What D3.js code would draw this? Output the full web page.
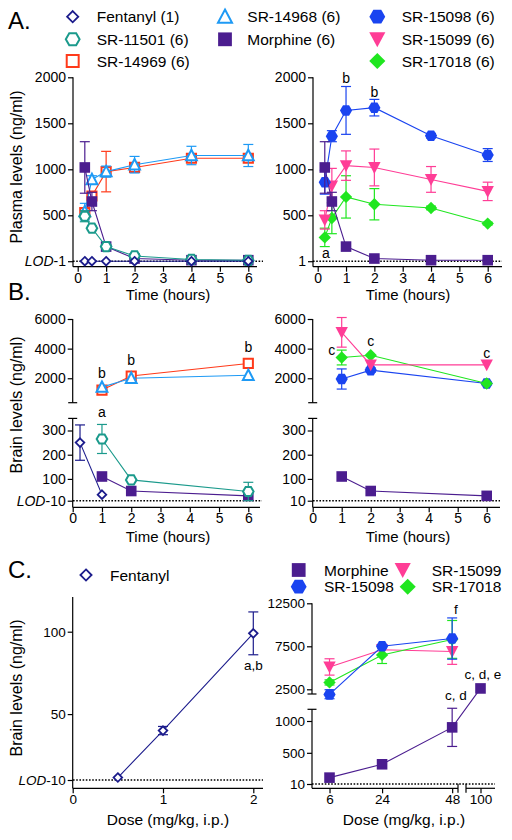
<!DOCTYPE html>
<html><head><meta charset="utf-8">
<script src="https://cdn.jsdelivr.net/npm/d3@7"></script>
<style>
body{margin:0;background:#fff}
text{font-family:"Liberation Sans",Arial,Helvetica,sans-serif;fill:#000}
</style>
</head><body>
<svg id="chart" width="512" height="840"></svg>
<script>
// ---------------- DATA ----------------
const timeA = [0.25, 0.5, 1, 2, 4, 6];
const plasmaFentanyl = [1, 1, 1, 1, 1, 1];
const plasmaSR11501 = [490, 360, 160, 58, 20, 10];
const plasmaSR11501Err = [60, 25, 20, 8, 4, 4];
const plasmaSR14969 = [530, 710, 975, 1020, 1120, 1120];
const plasmaSR14969Err = [40, 40, 220, 40, 30, 40];
const plasmaSR14968 = [540, 890, 975, 1050, 1150, 1150];
const plasmaSR14968Err = [90, 40, 60, 90, 100, 120];
const plasmaMorphine = [1020, 650, 160, 30, 12, 12];
const plasmaMorphineErr = [280, 100, 20, 5, 3, 3];
const plasmaSR15098 = [860, 1360, 1640, 1670, 1365, 1155];
const plasmaSR15098Err = [130, 60, 260, 90, 25, 70];
const plasmaSR15099 = [450, 820, 1040, 1020, 890, 760];
const plasmaSR15099Err = [100, 190, 160, 200, 140, 100];
const plasmaSR17018 = [260, 470, 700, 620, 580, 410];
const plasmaSR17018Err = [100, 170, 230, 170, 20, 15];

const timeBFentanyl = [0.25, 1];
const brainFentanyl = [250, 35];
const brainFentanylErr = [73, 0];
const timeB = [1, 2, 6];
const brainSR11501 = [265, 96, 48];
const brainSR11501Err = [60, 5, 38];
const brainSR14969 = [1200, 2150, 3000];
const brainSR14968 = [1400, 2000, 2200];
const brainMorphine = [110, 50, 30];
const brainSR15098 = [1950, 2550, 1650];
const brainSR15098Err = [680, 150, 100];
const brainSR15099 = [5100, 2900, 2900];
const brainSR15099Err = [1000, 0, 0];
const brainSR17018 = [3400, 3550, 1650];
const brainSR17018Err = [500, 0, 0];

const doseFentanyl = [0.5, 1, 2];
const doseBrainFentanyl = [11.5, 40, 99];
const doseBrainFentanylErr = [0, 2.5, 13];
const doseMorphine = [6, 24, 48, 100];
const doseBrainMorphine = [110, 320, 900, 2600];
const doseBrainMorphineErr = [0, 0, 300, 0];
const doseSR = [6, 24, 48];
const doseBrainSR15098 = [1900, 7500, 8400];
const doseBrainSR15098Err = [550, 200, 2400];
const doseBrainSR15099 = [5100, 7100, 6900];
const doseBrainSR15099Err = [950, 0, 1500];
const doseBrainSR17018 = [3300, 6500, 8300];
const doseBrainSR17018Err = [300, 1000, 2200];

const timeTicks = [0, 1, 2, 3, 4, 5, 6];
const plasmaTicks = [1, 500, 1000, 1500, 2000];
const brainUpperTicks = [2000, 4000, 6000];
const brainLowerTicks = [10, 100, 200, 300];
const fentDoseTicks = [0, 1, 2];
const fentBrainTicks = [10, 50, 100];
const srDoseTicks = [6, 24, 48];
const srDoseTicks2 = [100];
const srUpperTicks = [2500, 7500, 12500];
const srLowerTicks = [10, 500, 1000];

const legendA = [
  ["fentanyl", "Fentanyl (1)"], ["sr11501", "SR-11501 (6)"], ["sr14969", "SR-14969 (6)"],
  ["sr14968", "SR-14968 (6)"], ["morphine", "Morphine (6)"],
  ["sr15098", "SR-15098 (6)"], ["sr15099", "SR-15099 (6)"], ["sr17018", "SR-17018 (6)"]
];

// ---------------- STYLE ----------------
const styles = {
  fentanyl: {color: "#1c1c8c", shape: "diamond", r: 4.3, fill: false, sw: 1.8},
  sr11501: {color: "#1b9a8c", shape: "hexagon", r: 5.3, fill: false, sw: 2},
  sr14969: {color: "#ff3a1a", shape: "square", r: 4.6, fill: false, sw: 2},
  sr14968: {color: "#1e9af5", shape: "triUp", r: 5.4, fill: false, sw: 2},
  morphine: {color: "#4b1d8f", shape: "square", r: 5.3, fill: true, sw: 0},
  sr15098: {color: "#1a44f0", shape: "hexagon", r: 6.1, fill: true, sw: 0},
  sr15099: {color: "#ff3d96", shape: "triDown", r: 6.2, fill: true, sw: 0},
  sr17018: {color: "#20e620", shape: "diamond", r: 6.2, fill: true, sw: 0}
};

const svg = d3.select("#chart");

function markerPath(shape, r) {
  if (shape === "square") return `M${-r},${-r}H${r}V${r}H${-r}Z`;
  if (shape === "diamond") return `M0,${-r}L${r},0L0,${r}L${-r},0Z`;
  if (shape === "hexagon") {
    const p = d3.range(6).map(i => [r * Math.cos(i * Math.PI / 3), r * Math.sin(i * Math.PI / 3)]);
    return "M" + p.map(q => q.join(",")).join("L") + "Z";
  }
  const h = r * 1.75;
  if (shape === "triUp") return `M0,${-h / 2 - 1}L${r},${h / 2}L${-r},${h / 2}Z`;
  if (shape === "triDown") return `M0,${h / 2 + 1}L${r},${-h / 2}L${-r},${-h / 2}Z`;
}

function marker(g, key, x, y, scale = 1) {
  const st = styles[key];
  g.append("path").attr("d", markerPath(st.shape, st.r * scale))
    .attr("transform", `translate(${x},${y})`)
    .attr("fill", st.fill ? st.color : "#fff")
    .attr("stroke", st.color)
    .attr("stroke-width", st.fill ? 0 : st.sw)
    .attr("stroke-linejoin", "miter");
}

function series(g, key, xs, ys, errs, xf, yf) {
  const st = styles[key];
  const pts = xs.map((x, i) => [xf(x), yf(ys[i])]);
  if (errs) {
    xs.forEach((x, i) => {
      if (!errs[i]) return;
      const px = xf(x), yt = yf(ys[i] + errs[i]), yb = yf(ys[i] - errs[i]);
      g.append("line").attr("x1", px).attr("x2", px).attr("y1", yt).attr("y2", yb)
        .attr("stroke", st.color).attr("stroke-width", 1.2);
      [yt, yb].forEach(yy => g.append("line").attr("x1", px - 5).attr("x2", px + 5)
        .attr("y1", yy).attr("y2", yy).attr("stroke", st.color).attr("stroke-width", 1.2));
    });
  }
  g.append("path").attr("d", d3.line()(pts)).attr("fill", "none")
    .attr("stroke", st.color).attr("stroke-width", 1.1);
  pts.forEach(p => marker(g, key, p[0], p[1]));
}

function vline(x, y1, y2) {
  svg.append("line").attr("x1", x).attr("x2", x).attr("y1", y1).attr("y2", y2)
    .attr("stroke", "#000").attr("stroke-width", 1.2);
}
function hline(y, x1, x2) {
  svg.append("line").attr("x1", x1).attr("x2", x2).attr("y1", y).attr("y2", y)
    .attr("stroke", "#000").attr("stroke-width", 1.2);
}
function dotted(y, x1, x2) {
  svg.append("line").attr("x1", x1).attr("x2", x2).attr("y1", y).attr("y2", y)
    .attr("stroke", "#000").attr("stroke-width", 1.6).attr("stroke-dasharray", "1.6,1.6");
}

function yAxis(x0, scale, ticks, fs, lodVal, lodLabel) {
  const g = svg.append("g").attr("transform", `translate(${x0},0)`)
    .call(d3.axisLeft(scale).tickValues(ticks).tickSize(5).tickPadding(2).tickFormat(d3.format("d")));
  g.select(".domain").remove();
  g.selectAll(".tick line").attr("stroke", "#000").attr("stroke-width", 1.2);
  g.selectAll(".tick text").attr("font-size", fs).attr("font-family", null).attr("fill", "#000");
  if (lodLabel) {
    g.selectAll(".tick text").filter(d => d === lodVal).each(function () {
      const t = d3.select(this); t.text("");
      t.append("tspan").attr("font-style", "italic").text("LOD");
      t.append("tspan").text("-" + lodVal);
    });
  }
  return g;
}
function xAxis(y0, scale, ticks, fs, pad = 3) {
  const g = svg.append("g").attr("transform", `translate(0,${y0})`)
    .call(d3.axisBottom(scale).tickValues(ticks).tickSize(5).tickPadding(pad).tickFormat(d3.format("d")));
  g.select(".domain").remove();
  g.selectAll(".tick line").attr("stroke", "#000").attr("stroke-width", 1.2);
  g.selectAll(".tick text").attr("font-size", fs).attr("font-family", null).attr("fill", "#000");
  return g;
}
function text(x, y, s, fs, anchor = "middle") {
  return svg.append("text").attr("x", x).attr("y", y).attr("font-size", fs)
    .attr("text-anchor", anchor).text(s);
}
function yTitle(x, y, s, fs) {
  svg.append("text").attr("transform", `translate(${x},${y}) rotate(-90)`)
    .attr("text-anchor", "middle").attr("font-size", fs).text(s);
}

// ---------------- PANEL LETTERS & TOP LEGEND ----------------
text(8, 28.5, "A.", 24, "start");
text(8, 300, "B.", 24, "start");
text(8, 578, "C.", 24, "start");

const legCols = [[72.7, 96.7], [225, 247.3], [377.3, 401.7]];
const legRows = [16.7, 39.3, 61];
const legPlace = [[0, 0], [0, 1], [0, 2], [1, 0], [1, 1], [2, 0], [2, 1], [2, 2]];
const legG = svg.append("g");
legendA.forEach((d, i) => {
  const [c, r] = legPlace[i];
  marker(legG, d[0], legCols[c][0], legRows[r], 1.3);
  text(legCols[c][1], legRows[r] + 5.5, d[1], 15.5, "start");
});

// ---------------- PANEL A ----------------
const yA = d3.scaleLinear().domain([0, 2000]).range([261.3, 77.3]);
const xAL = d3.scaleLinear().domain([0, 6]).range([77.7, 248.3]);
const xAR = d3.scaleLinear().domain([0, 6]).range([317.7, 487.7]);
const axA = 266.7;

dotted(yA(1), 73, 263);
dotted(yA(1), 313, 502);
vline(73, yA(2000), axA); hline(axA, 73, 257);
vline(313, yA(2000), axA); hline(axA, 313, 502);
yAxis(73, yA, plasmaTicks, 14, 1, true);
yAxis(313, yA, plasmaTicks, 14, 1, false);
xAxis(axA, xAL, timeTicks, 14, 1.5);
xAxis(axA, xAR, timeTicks, 14, 1.5);
yTitle(22, 167, "Plasma levels (ng/ml)", 16);
text(168, 299.5, "Time (hours)", 15);
text(408, 299.5, "Time (hours)", 15);

const gAL = svg.append("g");
series(gAL, "sr14969", timeA, plasmaSR14969, plasmaSR14969Err, xAL, yA);
series(gAL, "sr14968", timeA, plasmaSR14968, plasmaSR14968Err, xAL, yA);
series(gAL, "morphine", timeA, plasmaMorphine, plasmaMorphineErr, xAL, yA);
series(gAL, "sr11501", timeA, plasmaSR11501, plasmaSR11501Err, xAL, yA);
series(gAL, "fentanyl", timeA, plasmaFentanyl, null, xAL, yA);

const gAR = svg.append("g");
series(gAR, "sr17018", timeA, plasmaSR17018, plasmaSR17018Err, xAR, yA);
series(gAR, "sr15099", timeA, plasmaSR15099, plasmaSR15099Err, xAR, yA);
series(gAR, "sr15098", timeA, plasmaSR15098, plasmaSR15098Err, xAR, yA);
series(gAR, "morphine", timeA, plasmaMorphine, plasmaMorphineErr, xAR, yA);
text(xAR(0.25) + 1, 257.5, "a", 14);
text(xAR(1), 83, "b", 14);
text(xAR(2), 96.5, "b", 14);

// ---------------- PANEL B ----------------
const yBU = d3.scaleLinear().domain([350, 6000]).range([402.7, 319]);
const yBL = d3.scaleLinear().domain([10, 350]).range([500.7, 418.4]);
const yB = v => v > 350 ? yBU(v) : yBL(v);
const xBL = d3.scaleLinear().domain([0, 6]).range([72.7, 248.3]);
const xBR = d3.scaleLinear().domain([0, 6]).range([312.7, 486.7]);
const axB = 507.3;

dotted(yBL(10), 73, 262);
dotted(yBL(10), 313, 500);
[[72.7, 260], [312.7, 500]].forEach(([x0, x1]) => {
  vline(x0, 319, 402.7); hline(402.7, x0 - 4.5, x0 + 4.5);
  vline(x0, 418.4, axB); hline(418.4, x0 - 4.5, x0 + 4.5);
  hline(axB, x0, x1);
});
yAxis(72.7, yBU, brainUpperTicks, 14);
yAxis(72.7, yBL, brainLowerTicks, 14, 10, true);
yAxis(312.7, yBU, brainUpperTicks, 14);
yAxis(312.7, yBL, brainLowerTicks, 14, 10, false);
xAxis(axB, xBL, timeTicks, 14, 1);
xAxis(axB, xBR, timeTicks, 14, 1);
yTitle(22, 405, "Brain levels (ng/ml)", 16);
text(168, 542, "Time (hours)", 15);
text(408, 542, "Time (hours)", 15);

const gBL = svg.append("g");
series(gBL, "sr14969", timeB, brainSR14969, null, xBL, yB);
series(gBL, "sr14968", timeB, brainSR14968, null, xBL, yB);
series(gBL, "morphine", timeB, brainMorphine, null, xBL, yB);
series(gBL, "sr11501", timeB, brainSR11501, brainSR11501Err, xBL, yB);
series(gBL, "fentanyl", timeBFentanyl, brainFentanyl, brainFentanylErr, xBL, yB);
text(xBL(1), 378, "b", 14);
text(xBL(2), 365, "b", 14);
text(xBL(6), 351.5, "b", 14);
text(xBL(1), 416.5, "a", 14);

const gBR = svg.append("g");
series(gBR, "sr15098", timeB, brainSR15098, brainSR15098Err, xBR, yB);
series(gBR, "sr17018", timeB, brainSR17018, brainSR17018Err, xBR, yB);
series(gBR, "sr15099", timeB, brainSR15099, brainSR15099Err, xBR, yB);
series(gBR, "morphine", timeB, brainMorphine, null, xBR, yB);
text(xBR(1) - 10, 354.5, "c", 14);
text(xBR(2), 346, "c", 14);
text(xBR(6), 358, "c", 14);

// ---------------- PANEL C ----------------
const xCL = d3.scaleLinear().domain([0, 2]).range([72.7, 253.3]);
const yCL = d3.scaleLinear().domain([10, 100]).range([780, 631.7]);
const axC = 788.3;
dotted(yCL(10), 73, 263);
vline(72.7, 597, axC); hline(axC, 72.7, 263);
yAxis(72.7, yCL, fentBrainTicks, 13.5, 10, true);
xAxis(axC, xCL, fentDoseTicks, 13.5, 1.5);
yTitle(22, 688, "Brain levels (ng/ml)", 16);
text(168, 824.5, "Dose (mg/kg, i.p.)", 15.5);
const gCL = svg.append("g");
series(gCL, "fentanyl", doseFentanyl, doseBrainFentanyl, doseBrainFentanylErr, xCL, yCL);
text(xCL(2), 670, "a,b", 13.5);
marker(svg, "fentanyl", 86, 575, 1.3);
text(110, 580.5, "Fentanyl", 15.5, "start");

const xCR1 = d3.scaleLinear().domain([0, 50]).range([312, 458]);
const xCR2 = d3.scaleLinear().domain([95, 105]).range([466, 495]);
const xCR = v => v <= 50 ? xCR1(v) : xCR2(v);
const yCU = d3.scaleLinear().domain([2500, 12500]).range([689.3, 603.3]);
const yCLo = d3.scaleLinear().domain([10, 1000]).range([784, 721]);
const yC = v => v > 1500 ? yCU(v) : yCLo(v);

dotted(yCLo(10), 312, 495);
vline(312, 603.3, 694); hline(694, 307.5, 316.5);
vline(312, 709.3, axC); hline(709.3, 307.5, 316.5);
hline(axC, 312, 458); vline(458, axC - 4.5, axC + 4.5);
hline(axC, 466, 495); vline(466, axC - 4.5, axC + 4.5);
yAxis(312, yCU, srUpperTicks, 13.5);
yAxis(312, yCLo, srLowerTicks, 13.5, 10, false);
xAxis(axC, xCR1, srDoseTicks, 13.5, 1.5);
xAxis(axC, xCR2, srDoseTicks2, 13.5, 1.5);
text(404, 824.5, "Dose (mg/kg, i.p.)", 15.5);

const gCR = svg.append("g");
series(gCR, "sr15099", doseSR, doseBrainSR15099, doseBrainSR15099Err, xCR, yC);
series(gCR, "sr17018", doseSR, doseBrainSR17018, doseBrainSR17018Err, xCR, yC);
series(gCR, "sr15098", doseSR, doseBrainSR15098, doseBrainSR15098Err, xCR, yC);
series(gCR, "morphine", doseMorphine, doseBrainMorphine, doseBrainMorphineErr, xCR, yC);
text(456, 614, "f", 13.5);
text(456, 700, "c, d", 13.5);
text(483, 679, "c, d, e", 13.5);

const legC = [["morphine", "Morphine", 298.7, 324, 570], ["sr15099", "SR-15099", 402.7, 431.7, 570],
              ["sr15098", "SR-15098", 298.7, 324, 586.7], ["sr17018", "SR-17018", 407.7, 431.7, 586.7]];
legC.forEach(d => {
  marker(svg, d[0], d[2], d[4], 1.3);
  text(d[3], d[4] + 5.5, d[1], 15.5, "start");
});
</script>
</body></html>
